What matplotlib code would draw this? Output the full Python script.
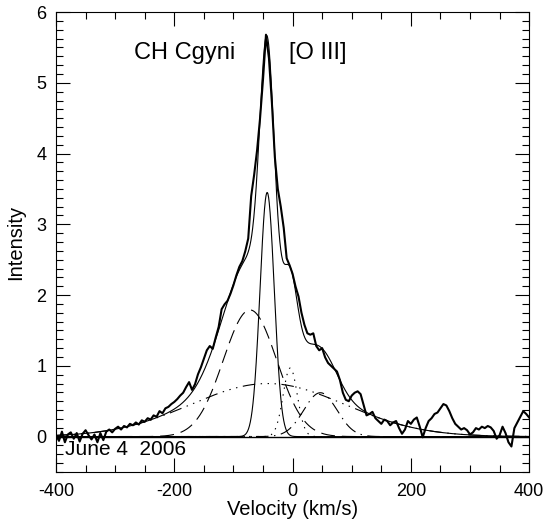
import numpy as np
import matplotlib
matplotlib.use("Agg")
import matplotlib.pyplot as plt
from matplotlib.ticker import MultipleLocator

plt.rcParams['font.family'] = ['Liberation Sans', 'DejaVu Sans']
plt.rcParams['lines.scale_dashes'] = False
plt.rcParams['axes.unicode_minus'] = False

# observed [O III] profile, read every 5 km/s
vel_obs = np.arange(-400, 401, 5)
flux_obs = [
    0.02, -0.06, 0.07, -0.08, 0.03, 0.06, -0.03, 0.05, -0.07, 0.04,
    0.09, 0.02, -0.04, 0.03, -0.08, 0.05, -0.05, 0.07, 0.10, 0.06,
    0.11, 0.14, 0.10, 0.15, 0.13, 0.18, 0.16, 0.20, 0.17, 0.23,
    0.21, 0.26, 0.24, 0.30, 0.28, 0.36, 0.33, 0.40, 0.42, 0.46,
    0.49, 0.53, 0.58, 0.62, 0.70, 0.77, 0.66, 0.74, 0.88, 0.98,
    1.10, 1.22, 1.28, 1.24, 1.40, 1.55, 1.80, 1.87, 1.92, 2.02,
    2.14, 2.28, 2.40, 2.48, 2.62, 2.80, 3.40, 3.70, 4.05, 4.50,
    5.05, 5.68, 5.35, 4.72, 3.95, 3.50, 3.25, 2.95, 2.52, 2.42,
    2.30, 2.12, 1.98, 1.75, 1.58, 1.46, 1.44, 1.46, 1.28, 1.22,
    1.25, 1.12, 1.04, 1.00, 0.96, 0.92, 0.80, 0.62, 0.52, 0.50,
    0.58, 0.62, 0.64, 0.60, 0.45, 0.30, 0.32, 0.35, 0.26, 0.22,
    0.18, 0.24, 0.22, 0.16, 0.20, 0.22, 0.12, 0.04, 0.10, 0.22,
    0.18, 0.24, 0.27, 0.14, -0.01, 0.12, 0.22, 0.26, 0.32, 0.34,
    0.40, 0.46, 0.44, 0.36, 0.26, 0.18, 0.14, 0.10, 0.12, 0.09,
    0.03, 0.06, 0.12, 0.10, 0.14, 0.12, 0.15, 0.13, 0.08, -0.03,
    0.02, 0.14, 0.05, -0.08, -0.14, 0.12, 0.20, 0.28, 0.36, 0.32,
    0.27,
]

# gaussian fit components: centre (km/s), peak, sigma (km/s)
comp_center = [-43, -72, -42, -4, 47]
comp_peak = [3.45, 1.79, 0.75, 0.97, 0.62]
comp_sigma = [12, 45, 130, 12, 28]
comp_style = ['-', (0, (10, 5)), (0, (9, 4, 1, 4, 1, 4, 1, 4)),
              (0, (1, 4)), (0, (9, 4, 1, 4))]

v = np.linspace(-400, 400, 1601)
comps = [a * np.exp(-(v - c) ** 2 / (2 * s ** 2))
         for c, a, s in zip(comp_center, comp_peak, comp_sigma)]
fit = np.sum(comps, axis=0)

fig = plt.figure(figsize=(5.47, 5.25), dpi=100)
ax = fig.add_axes([0.1024, 0.101, 0.865, 0.876])

ax.plot(vel_obs, flux_obs, color='black', lw=1.5)
ax.plot(v, fit, color='black', lw=0.8)
for y, ls in zip(comps, comp_style):
    ax.plot(v, y, color='black', lw=0.8, linestyle=ls)
ax.axhline(0, color='black', lw=1.0)

ax.set_xlim(-400, 400)
ax.set_ylim(-0.5, 6)
ax.xaxis.set_major_locator(MultipleLocator(200))
ax.xaxis.set_minor_locator(MultipleLocator(50))
ax.yaxis.set_major_locator(MultipleLocator(1))
ax.yaxis.set_minor_locator(MultipleLocator(0.125))
ax.tick_params(which='both', direction='in', top=True, right=True,
               labelsize=13, width=0.8)
ax.tick_params(which='major', length=10)
ax.tick_params(which='minor', length=5)
ax.tick_params(axis='x', pad=8)
ax.tick_params(axis='y', pad=7)
for sp in ax.spines.values():
    sp.set_linewidth(0.8)

ax.set_xlabel('Velocity (km/s)', fontsize=14.5, labelpad=0)
ax.set_ylabel('Intensity', fontsize=14.5, labelpad=8)

ax.text(-268, 5.33, 'CH Cgyni', fontsize=17)
ax.text(-6, 5.33, '[O III]', fontsize=17)
ax.text(-385, -0.26, 'June 4  2006', fontsize=15)

fig.savefig('out.png', dpi=100)
